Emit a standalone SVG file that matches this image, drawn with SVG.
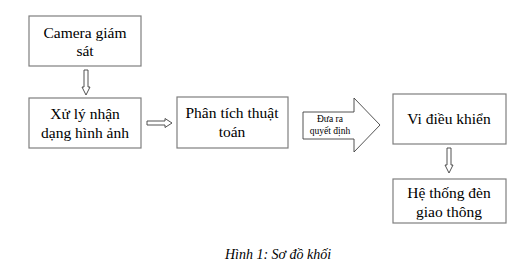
<svg xmlns="http://www.w3.org/2000/svg" width="532" height="277" viewBox="0 0 532 277">
<style>
.box{fill:#fff;stroke:#7f7f7f;stroke-width:1.2}
.t{font-family:"Liberation Serif",serif;font-size:15.5px;fill:#000;text-anchor:middle}
.s{font-family:"Liberation Serif",serif;font-size:9.5px;fill:#000;text-anchor:middle}
.ar{fill:#fff;stroke:#404040;stroke-width:0.9}
.cap{font-family:"Liberation Serif",serif;font-size:14px;font-style:italic;fill:#000;text-anchor:middle}
</style>
<rect width="532" height="277" fill="#fff"/>
<g id="camera"><rect class="box" x="29" y="16" width="112" height="50"/><text class="t" x="85" y="38">Camera giám</text><text class="t" x="85" y="56">sát</text></g>
<g id="xuly"><rect class="box" x="29" y="98" width="112" height="50"/><text class="t" x="85" y="119">Xử lý nhận</text><text class="t" x="85" y="138">dạng hình ảnh</text></g>
<g id="phantich"><rect class="box" x="177" y="97" width="111" height="51"/><text class="t" x="232" y="118">Phân tích thuật</text><text class="t" x="232" y="137">toán</text></g>
<g id="vidieukhien"><rect class="box" x="393" y="94" width="113" height="50"/><text class="t" x="449" y="124">Vi điều khiển</text></g>
<g id="den"><rect class="box" x="393" y="179" width="113" height="44"/><text class="t" x="449" y="198">Hệ thống đèn</text><text class="t" x="449" y="217">giao thông</text></g>
<g id="connectors">
<polygon class="ar" points="84,70 88,70 88,87 90,87 86,95 82,87 84,87"/>
<polygon class="ar" points="147,121 165,121 165,118.5 172,123 165,127.5 165,125 147,125"/>
<polygon class="ar" points="303,112 354,112 354,98 380,125 354,152 354,139 303,139"/>
<text class="s" x="330" y="122">Đưa ra</text>
<text class="s" x="330" y="134">quyết định</text>
<polygon class="ar" points="447,148 451,148 451,165 453,165 449,173 445,165 447,165"/>
</g>
<text class="cap" x="278" y="259">Hình 1: Sơ đồ khối</text>
</svg>
